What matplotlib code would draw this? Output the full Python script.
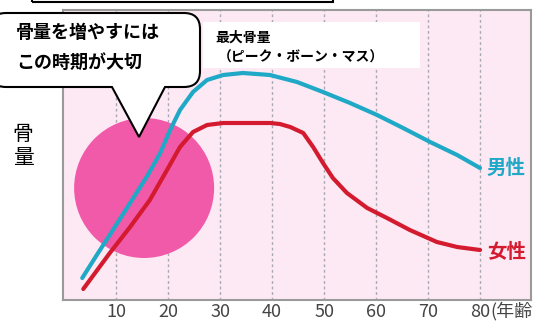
import matplotlib
matplotlib.use('Agg')
import matplotlib.pyplot as plt
from matplotlib.patches import Ellipse, Rectangle, PathPatch
from matplotlib.path import Path

plt.rcParams['font.family'] = ['Noto Sans CJK JP', 'DejaVu Sans']

# data (arbitrary bone-mass units)
male_age = [3.5, 6.3, 9.4, 12.7, 16.0, 18.5, 20.4, 22.3, 24.8, 27.5, 30.6, 34.4, 39.6,
            44.8, 49.8, 55.0, 60.2, 65.2, 70.4, 75.6, 80.0]
male_val = [22, 45, 70, 97, 124, 147, 170, 190, 208, 220, 225, 227, 225,
            218, 208, 197, 185, 172, 158, 145, 132]
female_age = [3.7, 8.8, 12.7, 16.5, 19.8, 22.3, 24.8, 27.5, 30.6, 39.6, 41.5, 43.5, 46.0,
              47.9, 49.8, 51.7, 54.4, 58.3, 62.1, 66.5, 71.7, 75.6, 80.0]
female_val = [11, 47, 73, 100, 130, 153, 168, 175, 177, 177, 176, 173, 167,
              153, 137, 122, 107, 92, 82, 70, 58, 53, 50]
ticks = [10, 20, 30, 40, 50, 60, 70, 80]
tick_labels = ['10', '20', '30', '40', '50', '60', '70', '80']

W, H = 538, 321
teal = '#1fa9c6'
red = '#d41a2e'


def px(x, y):
    # pixel coords from top-left -> figure fraction
    return (x / W, 1 - y / H)


fig = plt.figure(figsize=(5.38, 3.21), dpi=100)
ax = fig.add_axes([63 / W, 1 - 300 / H, (531 - 63) / W, (300 - 10) / H])
ax.set_facecolor('#fde9f4')
ax.set_xlim(-0.2, 89.8)
ax.set_ylim(0, 290)

for t in ticks:
    ax.axvline(t, color='#a9a9b4', lw=1, ls=(0, (2, 2)), zorder=1)

# pink circle
ax.add_patch(Ellipse((15.4, 112), 140 / 5.2, 140, color='#f05aa8', lw=0, zorder=2))

ax.plot(male_age, male_val, color=teal, lw=3, solid_capstyle='round',
        solid_joinstyle='round', zorder=3)
ax.plot(female_age, female_val, color=red, lw=3, solid_capstyle='round',
        solid_joinstyle='round', zorder=3)

ax.text(81.3, 132, '男性', color=teal, fontsize=14, fontweight='bold', va='center', clip_on=False)
ax.text(81.3, 48, '女性', color=red, fontsize=14, fontweight='bold', va='center', clip_on=False)

ax.set_xticks(ticks)
ax.set_xticklabels(tick_labels, fontsize=13, color='#444444')
ax.set_yticks([])
ax.tick_params(axis='x', length=0, pad=2)
ax.text(81.9, -0.038, '(年齢', transform=ax.get_xaxis_transform(), fontsize=13,
        color='#444444', va='center', ha='left', clip_on=False)

for s in ax.spines.values():
    s.set_color('#9a9a9a')
    s.set_linewidth(1.5)

# y label
fig.text(*px(23, 146), '骨\n量', fontsize=15, ha='center', va='center', linespacing=1.15)

# cut-off box at top
x0, y0 = px(32, -10)
x1, y1 = px(333, 2)
fig.add_artist(Rectangle((x0, y1), x1 - x0, y0 - y1, transform=fig.transFigure,
                         fill=False, ec='black', lw=1.5))

# white box with peak bone mass text
bx0, by0 = px(203, 68)
bx1, by1 = px(420, 22)
fig.add_artist(Rectangle((bx0, by0), bx1 - bx0, by1 - by0, transform=fig.transFigure,
                         fc='white', ec='none', zorder=1))
fig.text(*px(215, 38), '最大骨量', fontsize=10, fontweight='bold', va='center', zorder=2)
fig.text(*px(218, 58), '（ピーク・ボーン・マス）', fontsize=10, fontweight='bold', va='center', zorder=2)

# speech bubble
l, r, t, b, rad = -10, 200, 13, 87, 16
pts = [
    (l + rad, t), (r - rad, t), (r, t), (r, t + rad), (r, b - rad), (r, b), (r - rad, b),
    (165, b), (139, 137), (112, b),
    (l + rad, b), (l, b), (l, b - rad), (l, t + rad), (l, t), (l + rad, t), (l + rad, t),
]
codes = [
    Path.MOVETO, Path.LINETO, Path.CURVE3, Path.CURVE3, Path.LINETO, Path.CURVE3, Path.CURVE3,
    Path.LINETO, Path.LINETO, Path.LINETO,
    Path.LINETO, Path.CURVE3, Path.CURVE3, Path.LINETO, Path.CURVE3, Path.CURVE3, Path.CLOSEPOLY,
]
bubble = Path([px(x, y) for x, y in pts], codes)
fig.add_artist(PathPatch(bubble, transform=fig.transFigure, fc='white', ec='black', lw=1.5, zorder=1))
fig.text(*px(16, 33), '骨量を増やすには', fontsize=13, fontweight='bold', va='center', zorder=2)
fig.text(*px(16, 62), 'この時期が大切', fontsize=13, fontweight='bold', va='center', zorder=2)

fig.savefig('out.png', dpi=100)
